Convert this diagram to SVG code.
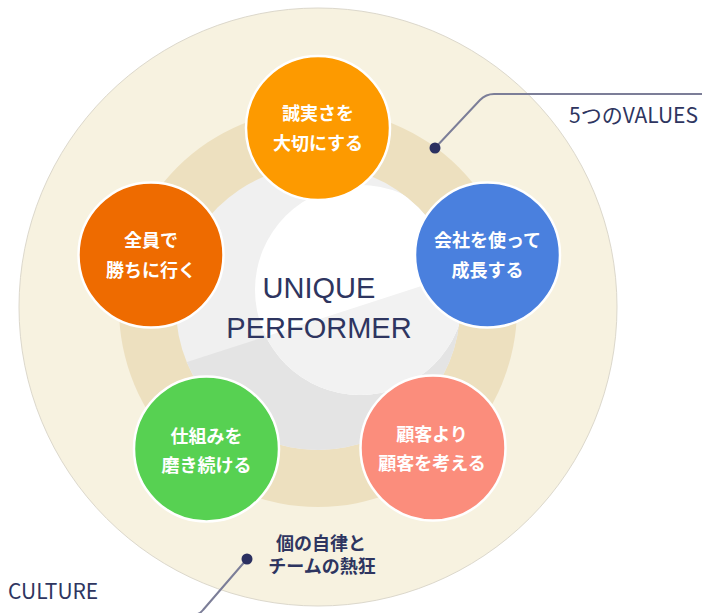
<svg xmlns="http://www.w3.org/2000/svg" width="702" height="613" viewBox="0 0 702 613">
  <style>
    .node { stroke: #ffffff; stroke-width: 2.5; }
    .ntxt { font-family: "Noto Sans CJK JP", "Noto Sans", sans-serif; font-size: 18px; font-weight: 700; fill: #ffffff; text-anchor: middle; }
    .center { font-family: "Liberation Sans", Arial, sans-serif; font-size: 29px; fill: #2e3560; text-anchor: middle; }
    .label { font-family: "Noto Sans CJK JP", "Noto Sans", sans-serif; font-size: 21px; fill: #2e3560; }
    .culture { font-family: "Noto Sans CJK JP", "Noto Sans", sans-serif; font-size: 18px; font-weight: 700; fill: #2e3560; text-anchor: middle; }
    .leader { fill: none; stroke: #7c7e98; stroke-width: 2; }
    .dot { fill: #2b3060; }
  </style>
  <defs>
    <clipPath id="c1"><circle cx="318" cy="308" r="142"/></clipPath>
    <clipPath id="c2"><circle cx="360" cy="290" r="105"/></clipPath>
  </defs>

  <g id="culture-ring">
    <circle cx="318" cy="307" r="299" fill="#f7f2e0" stroke="#dcd8cc" stroke-width="1"/>
  </g>
  <g id="values-ring">
    <circle cx="318" cy="308" r="199" fill="#ede0bf"/>
  </g>
  <g id="core" clip-path="url(#c1)">
    <rect x="150" y="150" width="350" height="330" fill="#f0f0f0"/>
    <polygon points="150,374 500,260.6 500,470 150,470" fill="#e4e4e4"/>
    <g clip-path="url(#c2)">
      <rect x="240" y="170" width="240" height="240" fill="#ffffff"/>
      <polygon points="150,374 500,260.6 500,470 150,470" fill="#f2f2f2"/>
    </g>
  </g>
  <g id="core-label">
    <text class="center" x="319" y="297.5">UNIQUE</text>
    <text class="center" x="319" y="337.5">PERFORMER</text>
  </g>

  <g id="node-integrity">
    <circle class="node" cx="318" cy="128" r="72" fill="#fd9a00"/>
    <text class="ntxt" x="318" y="119.5">誠実さを</text>
    <text class="ntxt" x="318" y="149.5">大切にする</text>
  </g>
  <g id="node-win">
    <circle class="node" cx="151" cy="255" r="72.5" fill="#ee6b00"/>
    <text class="ntxt" x="151" y="246.5">全員で</text>
    <text class="ntxt" x="151" y="276.5">勝ちに行く</text>
  </g>
  <g id="node-grow">
    <circle class="node" cx="487.5" cy="255" r="72.5" fill="#4a80de"/>
    <text class="ntxt" x="487.5" y="246.5">会社を使って</text>
    <text class="ntxt" x="487.5" y="276.5">成長する</text>
  </g>
  <g id="node-system">
    <circle class="node" cx="206.5" cy="449" r="72.5" fill="#57d152"/>
    <text class="ntxt" x="206.5" y="442.5">仕組みを</text>
    <text class="ntxt" x="206.5" y="471.5">磨き続ける</text>
  </g>
  <g id="node-customer">
    <circle class="node" cx="433" cy="448" r="72.5" fill="#fb8d7c"/>
    <text class="ntxt" x="432" y="440.5">顧客より</text>
    <text class="ntxt" x="432" y="469.5">顧客を考える</text>
  </g>

  <g id="culture-label">
    <text class="culture" x="321" y="550">個の自律と</text>
    <text class="culture" x="322" y="572.5">チームの熱狂</text>
  </g>

  <g id="connectors">
    <path class="leader" d="M435,148 L480,100 Q486,94 494,94 L702,94"/>
    <circle class="dot" cx="435" cy="148" r="5.5"/>
    <path class="leader" d="M247,559 L203,610 Q199,615 192,615 L0,615"/>
    <circle class="dot" cx="247" cy="559" r="5.5"/>
  </g>

  <g id="labels">
    <text class="label" x="698" y="123" text-anchor="end">5つのVALUES</text>
    <text class="label" x="8" y="599">CULTURE</text>
  </g>
</svg>
